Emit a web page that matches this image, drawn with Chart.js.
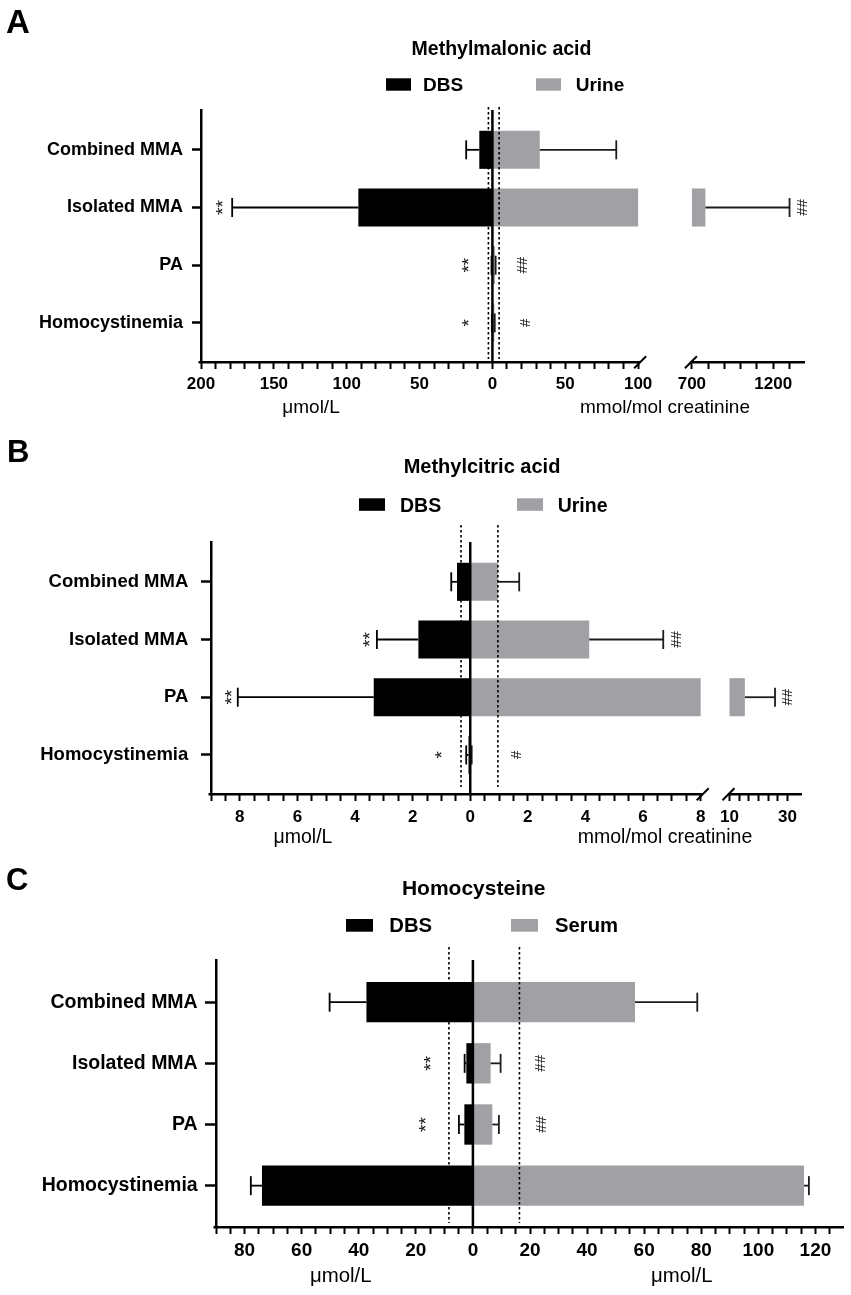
<!DOCTYPE html>
<html><head><meta charset="utf-8">
<script src="https://cdn.jsdelivr.net/npm/chart.js@4.4.1/dist/chart.umd.min.js"></script>
<style>
html,body{margin:0;padding:0;background:#fff;}
#wrap{position:relative;width:851px;height:1295px;overflow:hidden;background:#fff;}
.pn{position:absolute;left:0;width:851px;}
canvas{display:block;}
</style></head><body>
<div id="wrap">
<div class="pn" style="top:0;height:425px"><canvas id="cA" width="851" height="425"></canvas></div>
<div class="pn" style="top:425px;height:430px"><canvas id="cB" width="851" height="430"></canvas></div>
<div class="pn" style="top:855px;height:440px"><canvas id="cC" width="851" height="440"></canvas></div>
</div>
<script>
// ---------- data ----------
const categories = ['Combined MMA', 'Isolated MMA', 'PA', 'Homocystinemia'];

// A: Methylmalonic acid (DBS µmol/L, urine mmol/mol creatinine)
const mmaDbsMean    = [9, 92, 0.3, 0.2];
const mmaDbsUpper   = [18, 178.6, 0.6, 0.4];
const mmaUrineMean  = [32.5, 783, 1.8, 1.3];
const mmaUrineUpper = [85, 1300, 2.2, 1.6];
const mmaCutoff     = [2.75, 4.6];
const mmaDbsMarks   = ['', '**', '**', '*'];
const mmaDbsMarkAt  = [null, 187, 18, 18];
const mmaUrineMarks = ['', '##', '##', '#'];
const mmaUrineMarkAt= [null, 1380, 21, 23];
const mmaDbsTickLabels   = [0, 50, 100, 150, 200];
const mmaUrineTickLabels = [0, 50, 100, 700, 1200];

// B: Methylcitric acid
const mcaDbsMean    = [0.46, 1.8, 3.35, 0.06];
const mcaDbsUpper   = [0.66, 3.24, 8.07, 0.14];
const mcaUrineMean  = [0.96, 4.13, 15.3, 0.03];
const mcaUrineUpper = [1.7, 6.7, 25.7, 0.05];
const mcaCutoff     = [0.32, 0.96];
const mcaDbsMarks   = ['', '**', '**', '*'];
const mcaDbsMarkAt  = [null, 3.59, 8.38, 1.09];
const mcaUrineMarks = ['', '##', '##', '#'];
const mcaUrineMarkAt= [null, 7.19, 30, 1.63];
const mcaDbsTickLabels   = [0, 2, 4, 6, 8];
const mcaUrineTickLabels = [0, 2, 4, 6, 8, 10, 30];

// C: Homocysteine
const hcyDbsMean    = [37.3, 2.3, 3.0, 73.9];
const hcyDbsUpper   = [50.2, 2.9, 4.9, 77.8];
const hcySerumMean  = [56.8, 6.2, 6.8, 116];
const hcySerumUpper = [78.6, 9.7, 9.1, 117.7];
const hcyCutoff     = [8.4, 16.3];
const hcyDbsMarks   = ['', '**', '**', ''];
const hcyDbsMarkAt  = [null, 15.9, 17.5, null];
const hcySerumMarks = ['', '##', '##', ''];
const hcySerumMarkAt= [null, 23.7, 24, null];
const hcyDbsTickLabels   = [0, 20, 40, 60, 80];
const hcySerumTickLabels = [0, 20, 40, 60, 80, 100, 120];

// ---------- styling / layout ----------
const FONT = "'Liberation Sans', Arial, Helvetica, sans-serif";
const GRAY = '#a1a1a5';

const panels = [
  { id:'cA', top:0, height:425, rightName:'Urine',
    dbs:mmaDbsMean, dbsUp:mmaDbsUpper, right:mmaUrineMean, rightUp:mmaUrineUpper, ref:mmaCutoff,
    dbsMarks:mmaDbsMarks, dbsMarkAt:mmaDbsMarkAt, rightMarks:mmaUrineMarks, rightMarkAt:mmaUrineMarkAt,
    leftLabels:mmaDbsTickLabels, rightLabels:mmaUrineTickLabels,
    area:{left:201, right:805, top:110, bottom:361},
    xmin:-200, brk:{lo:100, hi:700, gap:36.9, k:0.1117}, xmaxVal:1395,
    leftTicks:{to:200, step:10}, rightTicks:[{from:0,to:100,step:10},{from:700,to:1300,step:100}],
    catFont:18, catTick:9, catPad:9, tickFont:17, tickPad:5,
    letter:{text:'A', x:6, y:33.3, size:33},
    title:{text:'Methylmalonic acid', x:501.5, y:55, size:19.5},
    legend:{box1:386, box2:536, by:78.3, w:25, h:12.4, t1:423, t2:575.7, base:91, size:19},
    axisTitles:[['\u03bcmol/L',311,413],['mmol/mol creatinine',665,413]], axisTitleSize:19,
    refTop:107, refBottom:359 },
  { id:'cB', top:425, height:430, rightName:'Urine',
    dbs:mcaDbsMean, dbsUp:mcaDbsUpper, right:mcaUrineMean, rightUp:mcaUrineUpper, ref:mcaCutoff,
    dbsMarks:mcaDbsMarks, dbsMarkAt:mcaDbsMarkAt, rightMarks:mcaUrineMarks, rightMarkAt:mcaUrineMarkAt,
    leftLabels:mcaDbsTickLabels, rightLabels:mcaUrineTickLabels,
    area:{left:211, right:802, top:542, bottom:793},
    xmin:-9, brk:{lo:8, hi:10, gap:1.0, k:0.1007}, xmaxVal:35,
    leftTicks:{to:9, step:0.5}, rightTicks:[{from:0,to:8,step:0.5},{from:10,to:30,step:10/3}],
    catFont:18.5, catTick:10, catPad:12.7, tickFont:17, tickPad:6,
    letter:{text:'B', x:7, y:461.7, size:31},
    title:{text:'Methylcitric acid', x:482, y:473.3, size:20},
    legend:{box1:359, box2:517, by:498.3, w:26, h:12.5, t1:400, t2:557.7, base:511.7, size:19.5},
    axisTitles:[['\u03bcmol/L',303,843],['mmol/mol creatinine',665,843]], axisTitleSize:19.5,
    refTop:525, refBottom:787 },
  { id:'cC', top:855, height:440, rightName:'Serum',
    dbs:hcyDbsMean, dbsUp:hcyDbsUpper, right:hcySerumMean, rightUp:hcySerumUpper, ref:hcyCutoff,
    dbsMarks:hcyDbsMarks, dbsMarkAt:hcyDbsMarkAt, rightMarks:hcySerumMarks, rightMarkAt:hcySerumMarkAt,
    leftLabels:hcyDbsTickLabels, rightLabels:hcySerumTickLabels,
    area:{left:216, right:844, top:960, bottom:1226},
    xmin:-90, brk:null, xmaxVal:130,
    leftTicks:{to:90, step:5}, rightTicks:[{from:0,to:125,step:5}],
    catFont:19.5, catTick:11, catPad:7.3, tickFont:19, tickPad:5,
    letter:{text:'C', x:6, y:890, size:31},
    title:{text:'Homocysteine', x:473.7, y:895, size:21},
    legend:{box1:346, box2:511, by:919, w:27, h:12.7, t1:389.3, t2:555, base:932, size:20.3},
    axisTitles:[['\u03bcmol/L',340.8,1282],['\u03bcmol/L',681.7,1282]], axisTitleSize:20.4,
    refTop:947, refBottom:1223 }
];

function makeF(brk){
  return brk ? (v => v <= brk.lo ? v : brk.lo + brk.gap + (v - brk.hi) * brk.k) : (v => v);
}

function buildTicks(p){
  const items = new Map();
  const add = (coord, label) => {
    const key = coord.toFixed(4);
    if (!items.has(key)) items.set(key, {value: coord, label: ''});
    if (label !== undefined) items.get(key).label = label;
  };
  const nL = Math.round(p.leftTicks.to / p.leftTicks.step);
  for (let i = 0; i <= nL; i++) add(-(i * p.leftTicks.step));
  p.rightTicks.forEach(s => {
    const n = Math.round((s.to - s.from) / s.step);
    for (let i = 0; i <= n; i++) add(p.f(s.from + i * s.step));
  });
  p.leftLabels.forEach(v => add(-v, String(v)));
  p.rightLabels.forEach(v => add(p.f(v), String(v)));
  return [...items.values()].sort((a, b) => a.value - b.value);
}

const decorPlugin = {
  id: 'panelDecor',
  afterDatasetsDraw(chart, args, opts) {
    const p = opts.panel; if (!p) return;
    const ctx = chart.ctx, xs = chart.scales.x, ys = chart.scales.y, a = chart.chartArea, T = p.top;
    const X = c => xs.getPixelForValue(c), Y = i => ys.getPixelForValue(i);
    const seg = (x1, y1, x2, y2) => { ctx.beginPath(); ctx.moveTo(x1, y1); ctx.lineTo(x2, y2); ctx.stroke(); };
    ctx.save();
    // error bars (mean + SD, outward only)
    const cap = 19;
    ctx.lineWidth = 1.8;
    ctx.strokeStyle = '#000';
    p.dbs.forEach((v, i) => {
      const y = Y(i), x1 = X(-v), x2 = X(-p.dbsUp[i]);
      seg(x1, y, x2, y); seg(x2, y - cap / 2, x2, y + cap / 2);
    });
    ctx.strokeStyle = '#1c1c1c';
    p.right.forEach((v, i) => {
      const y = Y(i), x1 = X(p.f(v)), x2 = X(p.f(p.rightUp[i]));
      seg(x1, y, x2, y); seg(x2, y - cap / 2, x2, y + cap / 2);
    });
    // cut-off dotted lines
    ctx.strokeStyle = '#000';
    ctx.setLineDash([2.5, 2.5]); ctx.lineWidth = 1.6;
    [-p.ref[0], p.f(p.ref[1])].forEach(c => { const x = X(c); seg(x, p.refTop - T, x, p.refBottom - T); });
    ctx.setLineDash([]);
    // zero line
    ctx.lineWidth = 2.5;
    seg(X(0), a.top, X(0), a.bottom);
    // x axis line (with break)
    const yb = a.bottom + 1.25;
    if (p.brk) {
      const b1 = X(p.f(p.brk.lo)) + 2, b2 = X(p.f(p.brk.hi)) - 1;
      seg(a.left - 2.5, yb, b1, yb); seg(b2, yb, a.right, yb);
      ctx.lineWidth = 2;
      [b1, b2].forEach(bx => seg(bx - 6, yb + 6, bx + 6, yb - 6));
    } else {
      seg(a.left - 2.5, yb, a.right, yb);
    }
    // significance marks (rotated)
    ctx.fillStyle = '#111';
    const mark = (txt, x, y) => {
      if (!txt) return;
      ctx.save(); ctx.translate(x, y); ctx.rotate(-Math.PI / 2);
      const star = txt[0] === '*';
      ctx.font = (star ? 19 : 15) + 'px ' + FONT;
      ctx.textAlign = 'center'; ctx.textBaseline = 'middle';
      ctx.fillText(txt, 0, star ? 4 : 0);
      ctx.restore();
    };
    p.dbsMarks.forEach((m, i) => { if (m) mark(m, X(-p.dbsMarkAt[i]), Y(i)); });
    p.rightMarks.forEach((m, i) => { if (m) mark(m, X(p.f(p.rightMarkAt[i])), Y(i)); });
    // texts
    ctx.fillStyle = '#000';
    ctx.textBaseline = 'alphabetic';
    ctx.textAlign = 'left';
    ctx.font = 'bold ' + p.letter.size + 'px ' + FONT;
    ctx.fillText(p.letter.text, p.letter.x, p.letter.y - T);
    ctx.textAlign = 'center';
    ctx.font = 'bold ' + p.title.size + 'px ' + FONT;
    ctx.fillText(p.title.text, p.title.x, p.title.y - T);
    const L = p.legend;
    ctx.fillStyle = '#000'; ctx.fillRect(L.box1, L.by - T, L.w, L.h);
    ctx.fillStyle = GRAY; ctx.fillRect(L.box2, L.by - T, L.w, L.h);
    ctx.fillStyle = '#000'; ctx.textAlign = 'left';
    ctx.font = 'bold ' + L.size + 'px ' + FONT;
    ctx.fillText('DBS', L.t1, L.base - T);
    ctx.fillText(p.rightName, L.t2, L.base - T);
    ctx.textAlign = 'center';
    ctx.font = p.axisTitleSize + 'px ' + FONT;
    p.axisTitles.forEach(t => ctx.fillText(t[0], t[1], t[2] - T));
    ctx.restore();
  }
};
Chart.register(decorPlugin);

panels.forEach(p => {
  p.f = makeF(p.brk);
  const tickItems = buildTicks(p);
  const brkLo = p.brk ? p.brk.lo : Infinity, brkHi = p.brk ? p.brk.hi : Infinity;
  const A = p.area;
  const bar = {grouped:false, barPercentage:0.66, categoryPercentage:1, borderWidth:0, borderSkipped:false};
  new Chart(document.getElementById(p.id), {
    type: 'bar',
    data: { datasets: [
      Object.assign({label:'DBS', backgroundColor:'#000',
        data: p.dbs.map((v, i) => ({y:i, x:-v}))}, bar),
      Object.assign({label:p.rightName, backgroundColor:GRAY,
        data: p.right.map((v, i) => ({y:i, x:p.f(Math.min(v, brkLo))}))}, bar),
      Object.assign({label:p.rightName + ' (after axis break)', backgroundColor:GRAY,
        data: p.right.map((v, i) => v > brkHi ? {y:i, x:[p.f(brkHi), p.f(v)]} : null).filter(Boolean)}, bar)
    ]},
    options: {
      indexAxis: 'y', responsive: false, animation: false, events: [],
      layout: { padding: { left:0, right:851 - A.right, top:A.top - p.top, bottom:0 } },
      plugins: { legend:{display:false}, tooltip:{enabled:false}, title:{display:false}, panelDecor:{panel:p} },
      scales: {
        y: { type:'linear', reverse:true, min:-0.69, max:3.66, offset:false,
          afterBuildTicks: s => { s.ticks = categories.map((c, i) => ({value:i})); },
          afterFit: s => { s.width = A.left; },
          ticks: { autoSkip:false, callback: v => categories[v], color:'#000', padding:p.catPad,
                   font:{family:FONT, weight:'bold', size:p.catFont} },
          grid: { offset:false, drawOnChartArea:false, drawTicks:true, tickLength:p.catTick, tickWidth:2.5, tickColor:'#000' },
          border: { display:true, width:2.5, color:'#000' } },
        x: { type:'linear', min:p.xmin, max:p.f(p.xmaxVal), offset:false,
          afterBuildTicks: s => { s.ticks = tickItems.map(t => ({value:t.value})); },
          afterFit: s => { s.height = p.top + p.height - A.bottom; },
          ticks: { autoSkip:false, maxRotation:0, minRotation:0, color:'#000', padding:p.tickPad,
                   callback: (v, i) => tickItems[i] ? tickItems[i].label : '',
                   font:{family:FONT, weight:'bold', size:p.tickFont} },
          grid: { offset:false, drawOnChartArea:false, drawTicks:true, tickLength:8, tickWidth:2, tickColor:'#000' },
          border: { display:false } }
      }
    }
  });
});
</script>
</body></html>
